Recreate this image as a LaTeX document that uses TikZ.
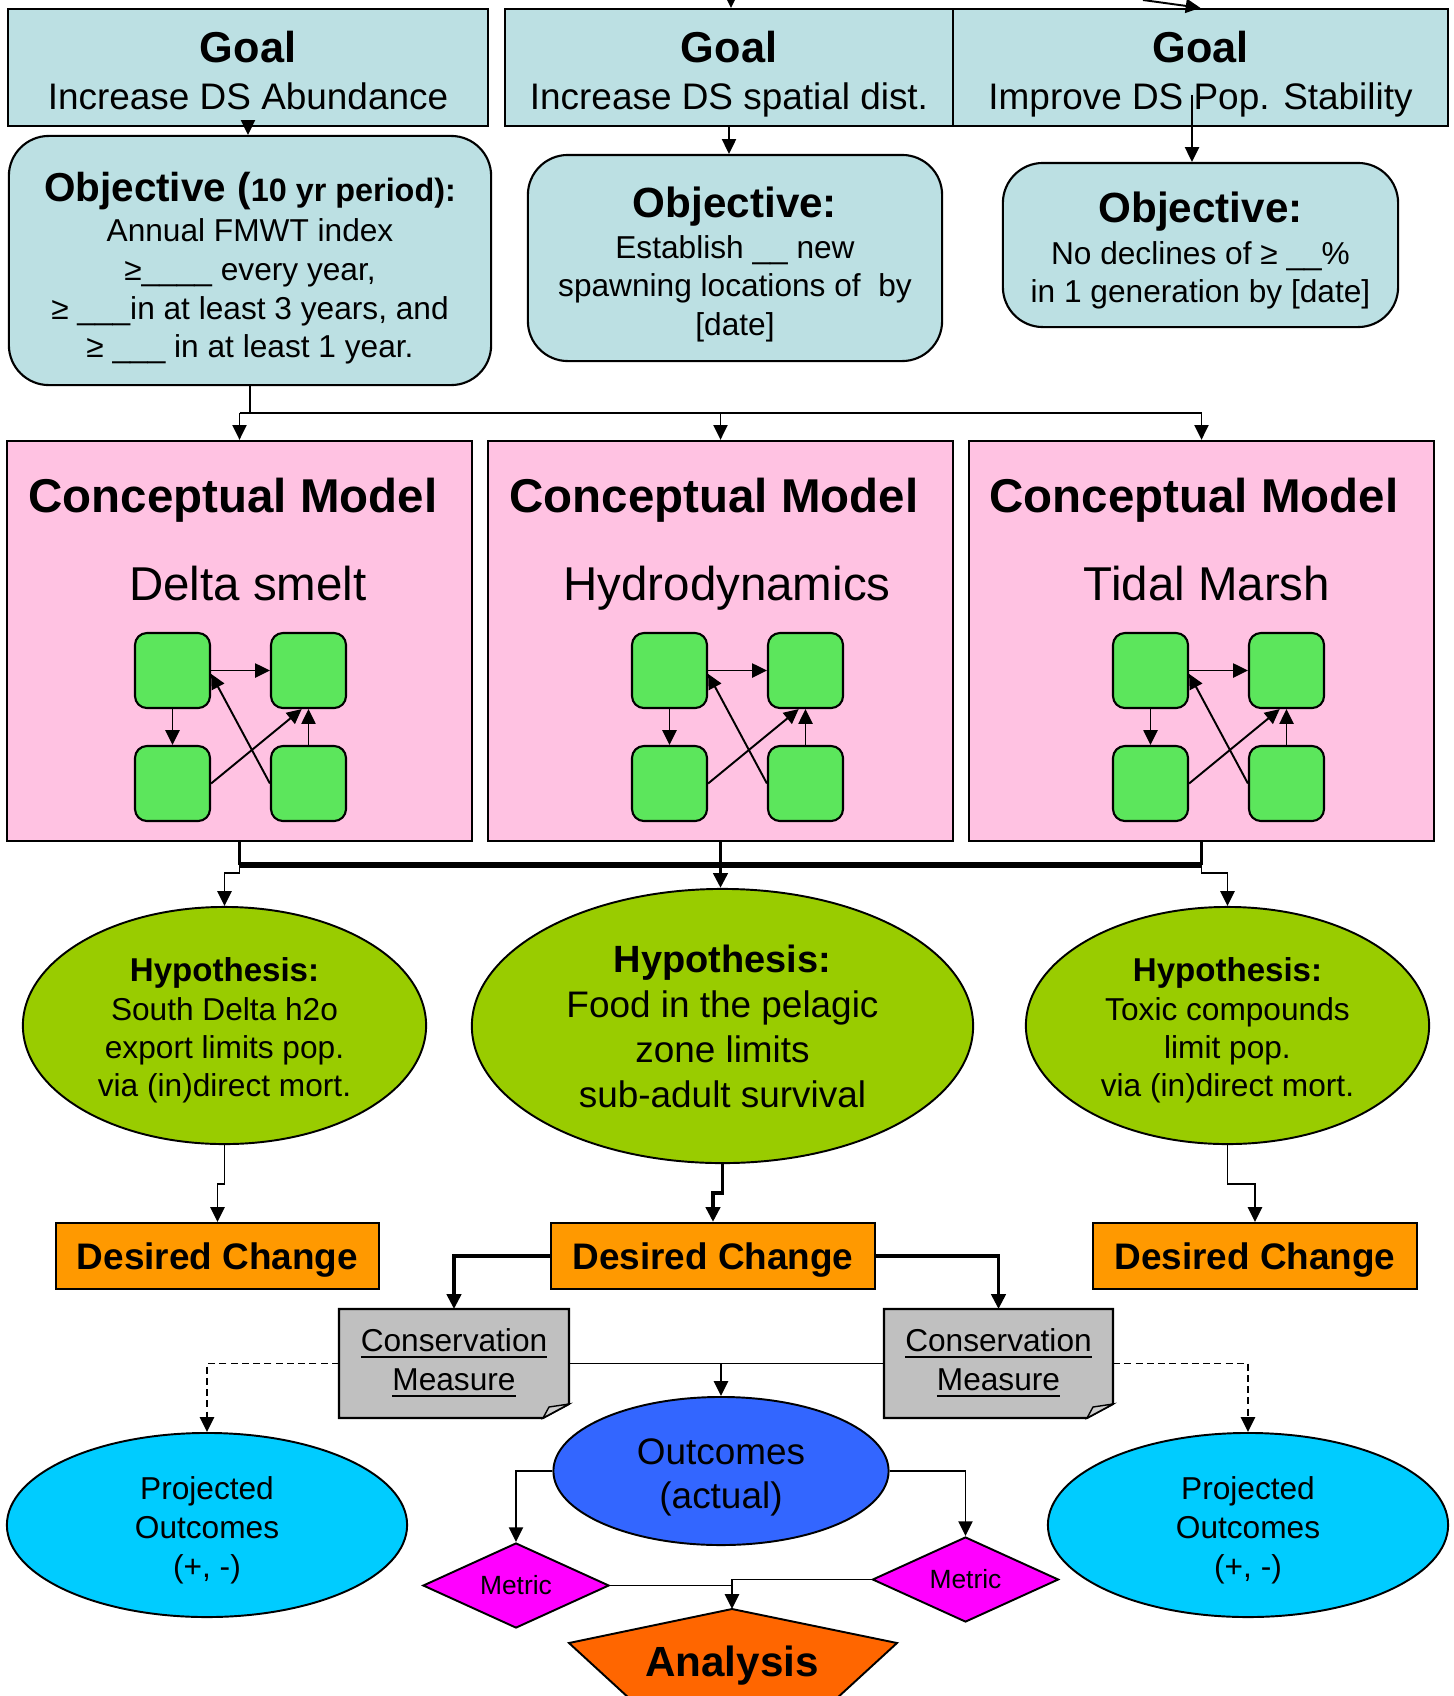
\documentclass[tikz,border=0pt]{standalone}
\usepackage{fontspec}
\setmainfont{Liberation Sans}
\usetikzlibrary{arrows.meta,shapes.geometric,backgrounds}

\definecolor{goalblue}{HTML}{BCE0E3}
\definecolor{modelpink}{HTML}{FFC2E2}
\definecolor{cellgreen}{HTML}{5CE65C}
\definecolor{hypgreen}{HTML}{99CC00}
\definecolor{changeorange}{HTML}{FF9900}
\definecolor{measuregray}{HTML}{C0C0C0}
\definecolor{projblue}{HTML}{00CCFF}
\definecolor{outblue}{HTML}{3366FF}
\definecolor{metricpink}{HTML}{FF00FF}
\definecolor{analysisorange}{HTML}{FF6600}

\begin{document}
\begin{tikzpicture}[x=0.01cm, y=-0.01cm, line width=0.55pt,
  arr/.style={-{Triangle[length=4.2pt,width=4pt]}},
  heavy/.style={line width=1.1pt},
  dotline/.style={dash pattern=on 2pt off 1.2pt},
  goalbox/.style={draw, line width=0.6pt, fill=goalblue, inner sep=0pt, align=center, minimum height=1.17cm, font=\fontsize{10.5}{13.5}\selectfont},
  objbox/.style={draw, line width=0.6pt, fill=goalblue, inner sep=0pt, align=center, rounded corners=0.4cm, font=\fontsize{9}{11}\selectfont},
  modelbox/.style={draw, line width=0.6pt, fill=modelpink, minimum width=4.65cm, minimum height=4cm},
  modeltitle/.style={anchor=base, font=\bfseries\fontsize{13.5}{16}\selectfont},
  modelname/.style={anchor=base, font=\fontsize{13.5}{16}\selectfont},
  cellbox/.style={draw, line width=0.6pt, fill=cellgreen, rounded corners=0.12cm, minimum size=0.75cm},
  hypnode/.style={ellipse, draw, fill=hypgreen, inner sep=0pt, align=center},
  changebox/.style={draw, line width=0.6pt, fill=changeorange, minimum width=3.23cm, minimum height=0.66cm, text height=7.5pt, text depth=0pt, font=\bfseries\fontsize{10.5}{12}\selectfont},
  measurebox/.style={inner sep=0pt, align=center, minimum height=1.07cm, font=\fontsize{9}{11}\selectfont},
  projnode/.style={ellipse, draw, fill=projblue, inner sep=0pt, align=center, minimum width=4cm, minimum height=1.84cm, font=\fontsize{9}{11}\selectfont},
  outnode/.style={ellipse, draw, fill=outblue, inner sep=0pt, align=center, minimum width=3.35cm, minimum height=1.48cm, font=\fontsize{10.5}{12.6}\selectfont},
  metricnode/.style={diamond, aspect=2.2, draw, fill=metricpink, inner sep=0pt, minimum width=1.86cm, minimum height=0.85cm, font=\fontsize{7.5}{9}\selectfont}]

\useasboundingbox (0,0) rectangle (1453,1696);

\node[goalbox, minimum width=4.80cm] (g1) at (248,67.5) {\rule{0pt}{12.6pt}{\bfseries\fontsize{12.3}{13.5}\selectfont Goal}\\Increase DS Abundance\vphantom{y}};
\node[goalbox, minimum width=4.48cm] (g2) at (729,67.5) {\rule{0pt}{12.6pt}{\bfseries\fontsize{12.3}{13.5}\selectfont Goal}\\Increase DS spatial dist.};
\node[goalbox, minimum width=4.95cm] (g3) at (1200.5,67.5) {\rule{0pt}{12.6pt}{\bfseries\fontsize{12.3}{13.5}\selectfont Goal}\\Improve DS Pop. Stability};

\node[objbox, minimum width=4.82cm, minimum height=2.49cm] (o1) at (250,260.5) {\rule{0pt}{12.7pt}{\bfseries\fontsize{11.5}{13}\selectfont Objective (}{\bfseries\fontsize{9.2}{11}\selectfont 10 yr period):}\\[0.6pt] Annual FMWT index\\ ≥\_\_\_\_ every year,\\ ≥ \_\_\_in at least 3 years, and\\ ≥ \_\_\_ in at least 1 year.};
\node[objbox, minimum width=4.14cm, minimum height=2.06cm] (o2) at (735,258) {\rule{0pt}{12.3pt}{\bfseries\fontsize{12}{14}\selectfont Objective:}\\[0.6pt] Establish \_\_ new\\ spawning locations of \ by\\ {[date]}};
\node[objbox, minimum width=3.95cm, minimum height=1.64cm] (o3) at (1200.5,245) {\rule{0pt}{11.9pt}{\bfseries\fontsize{12}{14}\selectfont Objective:}\\[0.9pt] No declines of ≥ \_\_\%\\ in 1 generation by [date]};

\coordinate (in2) at (731,0);
\coordinate (in3) at (1143,0);
\coordinate (g3in) at (1192,95);
\draw[arr] (in2) -- (in2 |- g2.north);
\draw[arr] (in3) -- (g3.north);
\draw[arr] (g1.south) -- (g1.south |- o1.north);
\draw[arr] (g2.south) -- (g2.south |- o2.north);
\draw[arr] (g3in) -- (g3in |- o3.north);

\node[modelbox] (m1) at (239.5,641) {};
\node[modelbox] (m2) at (720.5,641) {};
\node[modelbox] (m3) at (1201.5,641) {};
\node[modeltitle] (m1t) at (233,512) {Conceptual Model};
\node[modeltitle] (m2t) at (714,512) {Conceptual Model};
\node[modeltitle] (m3t) at (1194,512) {Conceptual Model};
\node[modelname] (m1n) at (248,600) {Delta smelt};
\node[modelname] (m2n) at (727,600) {Hydrodynamics};
\node[modelname] (m3n) at (1207,600) {Tidal Marsh};

\foreach \dx/\k in {0/a,497/b,978/c}{
  \node[cellbox] (tl\k) at (172.5+\dx,670.5) {};
  \node[cellbox] (tr\k) at (308.5+\dx,670.5) {};
  \node[cellbox] (bl\k) at (172.5+\dx,783.5) {};
  \node[cellbox] (br\k) at (308.5+\dx,783.5) {};
  \draw[arr] (tl\k.east) -- (tr\k.west);
  \draw[arr] (tl\k.south) -- (bl\k.north);
  \draw[arr] (br\k.north) -- (tr\k.south);
  \draw[arr] (bl\k.east) -- (tr\k.260);
  \draw[arr] (br\k.west) -- (tl\k.-5);
}

\coordinate (bus1) at (0,413);
\draw (o1.south) -- (o1.south |- bus1);
\draw (m1.north |- bus1) -- (m3.north |- bus1);
\foreach \m in {m1,m2,m3}
  \draw[arr] (\m.north |- bus1) -- (\m.north);

\node[hypnode, minimum width=4.03cm, minimum height=2.37cm, font=\fontsize{9}{10.9}\selectfont] (h1) at (224.5,1025.5) {\rule{0pt}{9.7pt}{\bfseries\fontsize{9.4}{10.9}\selectfont Hypothesis:}\\South Delta h2o\\export limits pop.\\via (in)direct mort.};
\node[hypnode, minimum width=5.01cm, minimum height=2.74cm, font=\fontsize{10.5}{12.8}\selectfont] (h2) at (722.5,1026) {{\bfseries\fontsize{10.8}{12.8}\selectfont Hypothesis:}\\Food in the pelagic\\zone limits\\sub-adult survival};
\node[hypnode, minimum width=4.03cm, minimum height=2.37cm, font=\fontsize{9}{10.9}\selectfont] (h3) at (1227.5,1025.5) {\rule{0pt}{9.7pt}{\bfseries\fontsize{9.4}{10.9}\selectfont Hypothesis:}\\Toxic compounds\\limit pop.\\via (in)direct mort.};

\coordinate (bus2) at (0,865);
\coordinate (bus3) at (0,873);
\draw[heavy] (m1.south) -- (m1.south |- bus2);
\draw[heavy] (m3.south) -- (m3.south |- bus2);
\draw[line width=1.5pt] (m1.south |- bus2) -- (m3.south |- bus2);
\draw[heavy, arr] (m2.south) -- (m2.south |- h2.north);
\draw[arr] (m1.south |- bus2) -- (m1.south |- bus3) -| (h1.north);
\draw[arr] (m3.south |- bus2) -- (m3.south |- bus3) -| (h3.north);

\node[changebox] (d1) at (217.5,1256) {Desired Change};
\node[changebox] (d2) at (713,1256) {Desired Change};
\node[changebox] (d3) at (1255,1256) {Desired Change};
\draw[arr] (h1.south) -- ++(0,39) -| (d1.north);
\draw[heavy, arr] (h2.south) -- ++(0,29) -| (d2.north);
\draw[arr] (h3.south) -- ++(0,39) -| (d3.north);

\node[measurebox, minimum width=2.28cm] (c1) at (454,1363.5) {\underline{Conservation}\\\underline{Measure}};
\node[measurebox, minimum width=2.27cm] (c2) at (998.5,1363.5) {\underline{Conservation}\\\underline{Measure}};
\begin{scope}[on background layer]
\foreach \c in {c1,c2}{
  \filldraw[fill=measuregray, line width=0.6pt] (\c.north west) -- (\c.north east) -- ([yshift=0.14cm]\c.south east) -- ([xshift=-0.26cm]\c.south east) -- (\c.south west) -- cycle;
  \filldraw[fill=measuregray!80!white, line width=0.4pt] ([xshift=-0.26cm]\c.south east) -- ([xshift=-0.2cm, yshift=0.11cm]\c.south east) -- ([yshift=0.14cm]\c.south east) -- cycle;
}
\end{scope}
\draw[heavy, arr] (d2.west) -| (c1.north);
\draw[heavy, arr] (d2.east) -| (c2.north);

\node[projnode] (p1) at (207,1525) {\rule{0pt}{9.6pt}Projected\\Outcomes\\(+, -)};
\node[projnode] (p2) at (1248,1525) {\rule{0pt}{9.6pt}Projected\\Outcomes\\(+, -)};
\node[outnode] (oc) at (721,1471) {\rule{0pt}{10.8pt}Outcomes\\(actual)};
\draw (c1.east) -- (c2.west);
\draw[arr] (oc.north |- c1.east) -- (oc.north);
\draw[dotline, arr] (c1.west) -| (p1.north);
\draw[dotline, arr] (c2.east) -| (p2.north);

\node[metricnode] (mt1) at (516,1585.5) {Metric};
\node[metricnode] (mt2) at (965.5,1579.5) {Metric};
\draw[arr] (oc.west) -| (mt1.north);
\draw[arr] (oc.east) -| (mt2.north);

\coordinate (antop) at (732,1609);
\filldraw[fill=analysisorange] (antop) -- (897,1643) -- (836,1699) -- (630,1699) -- (569,1643) -- cycle;
\node[anchor=base, font=\bfseries\fontsize{12}{14}\selectfont] (an) at (732,1676) {Analysis};
\draw (mt1.east) -- (mt1.east -| antop);
\draw[arr] (mt2.west) -| (antop);
\end{tikzpicture}
\end{document}
